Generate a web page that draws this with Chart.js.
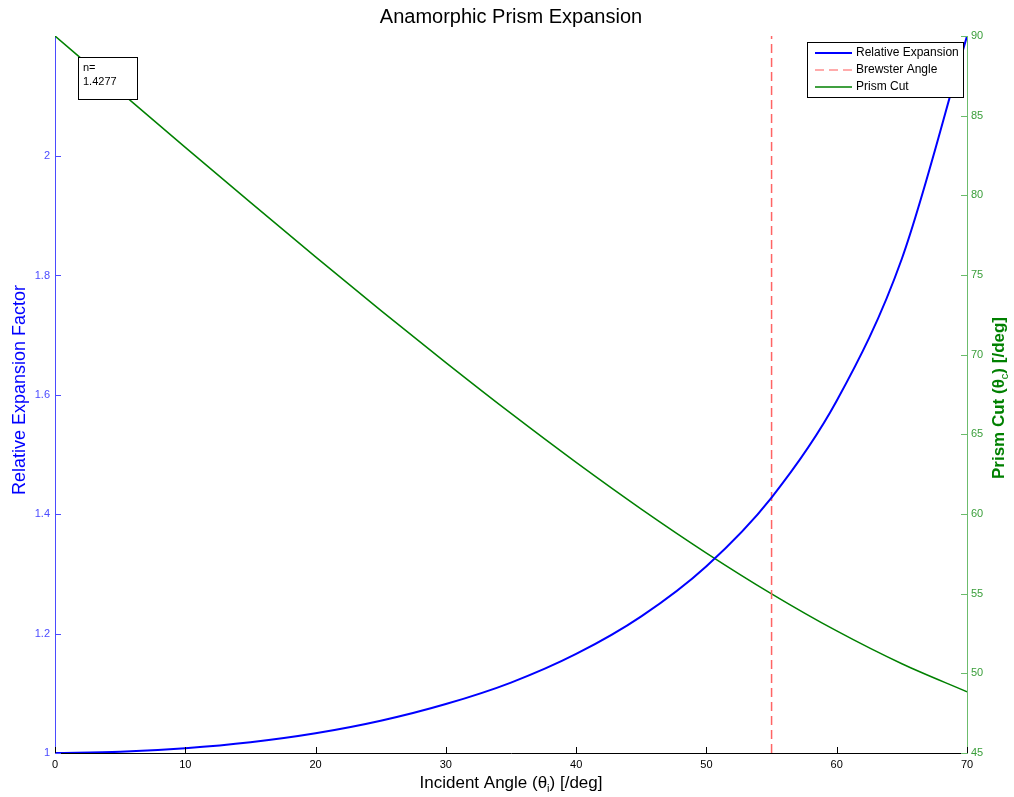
<!DOCTYPE html>
<html>
<head>
<meta charset="utf-8">
<title>Anamorphic Prism Expansion</title>
<script src="https://cdn.jsdelivr.net/npm/chart.js@4/dist/chart.umd.min.js"></script>
<style>
  html, body { margin:0; padding:0; background:#fff; }
  #wrap { width:1014px; height:797px; position:relative; }
</style>
</head>
<body>
<div id="wrap"><canvas id="prismChart"></canvas></div>
<script>
// values (n = 1.4277)
const angles     = [0, 5, 10, 15, 20, 25, 30, 35, 40, 45, 50, 55, 60, 65, 70];
const expansion  = [1.000, 1.002, 1.008, 1.018, 1.033, 1.054, 1.082, 1.118, 1.166, 1.229, 1.313, 1.428, 1.590, 1.828, 2.201];
const prismCut   = [90.00, 86.50, 83.01, 79.56, 76.14, 72.78, 69.50, 66.31, 63.24, 60.31, 57.55, 54.99, 52.66, 50.60, 48.84];
const brewster   = 55.0;
const leftTicks  = [1, 1.2, 1.4, 1.6, 1.8, 2];
const rightTicks = [45, 50, 55, 60, 65, 70, 75, 80, 85, 90];
const indexLabel = ['n=', '1.4277'];

const FONT = "'Liberation Sans', Arial, sans-serif";
const BLUE_AX = '#4b4bff', GREEN_AX = '#6cbc6c', GREEN_TXT = '#3a9e3a';

const pts = (ys) => angles.map((x, i) => ({ x, y: ys[i] }));

// inner tick marks, titles, legend and the n= note
const decor = {
  id: 'decor',
  afterDatasetsDraw(chart){
    const { ctx, chartArea: a, scales } = chart;
    ctx.save();
    ctx.lineWidth = 1;
    // x ticks (pointing up)
    ctx.strokeStyle = '#000';
    scales.x.ticks.forEach(t => {
      const px = Math.round(scales.x.getPixelForValue(t.value)) + 0.5;
      ctx.beginPath(); ctx.moveTo(px, a.bottom); ctx.lineTo(px, a.bottom - 6); ctx.stroke();
    });
    ctx.strokeStyle = BLUE_AX;
    scales.y.ticks.forEach(t => {
      const py = Math.round(scales.y.getPixelForValue(t.value)) + 0.5;
      ctx.beginPath(); ctx.moveTo(a.left, py); ctx.lineTo(a.left + 6, py); ctx.stroke();
    });
    ctx.strokeStyle = GREEN_AX;
    scales.y2.ticks.forEach(t => {
      const py = Math.round(scales.y2.getPixelForValue(t.value)) + 0.5;
      ctx.beginPath(); ctx.moveTo(a.right, py); ctx.lineTo(a.right - 6, py); ctx.stroke();
    });

    // title
    ctx.fillStyle = '#000';
    ctx.textAlign = 'center'; ctx.textBaseline = 'middle';
    ctx.font = '20px ' + FONT;
    ctx.fillText('Anamorphic Prism Expansion', (a.left + a.right) / 2, 17);

    // x title with subscript
    drawSub(ctx, ['Incident Angle (\u03b8', 'i', ') [/deg]'], '17px ' + FONT, '11px ' + FONT, '#000', (a.left + a.right) / 2, 783);

    // left y title
    ctx.save();
    ctx.translate(20, 390);
    ctx.rotate(-Math.PI / 2);
    ctx.fillStyle = '#0000ff';
    ctx.font = '18px ' + FONT;
    ctx.textAlign = 'center'; ctx.textBaseline = 'middle';
    ctx.fillText('Relative Expansion Factor', 0, 0);
    ctx.restore();

    // right y title
    ctx.save();
    ctx.translate(999, 398);
    ctx.rotate(-Math.PI / 2);
    drawSub(ctx, ['Prism Cut (\u03b8', 'c', ') [/deg]'], 'bold 17px ' + FONT, '11px ' + FONT, '#008000', 0, 0);
    ctx.restore();

    // n= note
    ctx.fillStyle = '#fff'; ctx.strokeStyle = '#000';
    ctx.fillRect(78, 57, 59, 42);
    ctx.strokeRect(78.5, 57.5, 59, 42);
    ctx.fillStyle = '#000';
    ctx.font = '11px ' + FONT;
    ctx.textAlign = 'left'; ctx.textBaseline = 'middle';
    indexLabel.forEach((s, i) => ctx.fillText(s, 83, 68 + i * 14));

    // legend
    const lx = 807, ly = 42, lw = 156, lh = 55;
    ctx.fillStyle = '#fff';
    ctx.fillRect(lx, ly, lw, lh);
    ctx.strokeStyle = '#000';
    ctx.strokeRect(lx + 0.5, ly + 0.5, lw, lh);
    chart.data.datasets.forEach((ds, i) => {
      const y = ly + 11 + i * 17;
      ctx.save();
      ctx.strokeStyle = ds.legendColor || ds.borderColor;
      ctx.lineWidth = ds.borderWidth;
      ctx.setLineDash(ds.borderDash || []);
      ctx.beginPath(); ctx.moveTo(lx + 8, y); ctx.lineTo(lx + 45, y); ctx.stroke();
      ctx.restore();
      ctx.fillStyle = '#000';
      ctx.font = '12px ' + FONT;
      ctx.textAlign = 'left'; ctx.textBaseline = 'middle';
      ctx.fillText(ds.label, lx + 49, y);
    });
    ctx.restore();
  }
};

function drawSub(ctx, parts, font, subFont, color, cx, cy){
  ctx.save();
  ctx.fillStyle = color;
  ctx.textBaseline = 'middle'; ctx.textAlign = 'left';
  ctx.font = font;   const w0 = ctx.measureText(parts[0]).width;
  ctx.font = subFont; const w1 = ctx.measureText(parts[1]).width;
  ctx.font = font;   const w2 = ctx.measureText(parts[2]).width;
  let x = cx - (w0 + w1 + w2) / 2;
  ctx.font = font; ctx.fillText(parts[0], x, cy); x += w0;
  ctx.font = subFont; ctx.fillText(parts[1], x, cy + 6); x += w1;
  ctx.font = font; ctx.fillText(parts[2], x, cy);
  ctx.restore();
}

new Chart(document.getElementById('prismChart'), {
  type: 'line',
  data: {
    datasets: [
      { label:'Relative Expansion', data: pts(expansion), yAxisID:'y', borderColor:'#0000ff', borderWidth:2,
        pointRadius:0, cubicInterpolationMode:'monotone', fill:false },
      { label:'Brewster Angle', data:[{x:brewster, y:1}, {x:brewster, y:2.2012}], yAxisID:'y', borderColor:'#ff6464',
        legendColor:'#ff9090', borderWidth:1.5, borderDash:[9,5], pointRadius:0, fill:false },
      { label:'Prism Cut', data: pts(prismCut), yAxisID:'y2', borderColor:'#008000', borderWidth:1.5,
        pointRadius:0, cubicInterpolationMode:'monotone', fill:false }
    ]
  },
  options: {
    responsive:true, maintainAspectRatio:false, animation:false,
    layout:{ padding:{ top:36, left:0, right:0, bottom:0 } },
    plugins:{ legend:{display:false}, title:{display:false}, tooltip:{enabled:false} },
    scales:{
      x:{ type:'linear', min:0, max:70,
        afterBuildTicks: s => { s.ticks = angles.filter(v => v % 10 === 0).map(v => ({value:v})); },
        afterFit: s => { s.height = 44; },
        grid:{ display:false, drawTicks:false }, border:{ display:true, color:'#000', width:1 },
        ticks:{ color:'#000', padding:5, font:{ family:FONT, size:11 }, maxRotation:0 } },
      y:{ type:'linear', position:'left', min:1, max:2.2012,
        afterBuildTicks: s => { s.ticks = leftTicks.map(v => ({value:v})); },
        afterFit: s => { s.width = 55; },
        grid:{ display:false, drawTicks:false }, border:{ display:true, color:BLUE_AX, width:1 },
        ticks:{ color:BLUE_AX, padding:5, font:{ family:FONT, size:11 }, callback: v => String(+v.toFixed(1)) } },
      y2:{ type:'linear', position:'right', min:45, max:90,
        afterBuildTicks: s => { s.ticks = rightTicks.map(v => ({value:v})); },
        afterFit: s => { s.width = 47; },
        grid:{ display:false, drawTicks:false }, border:{ display:true, color:GREEN_AX, width:1 },
        ticks:{ color:GREEN_TXT, padding:4, font:{ family:FONT, size:11 } } }
    }
  },
  plugins:[decor]
});
</script>
</body>
</html>
